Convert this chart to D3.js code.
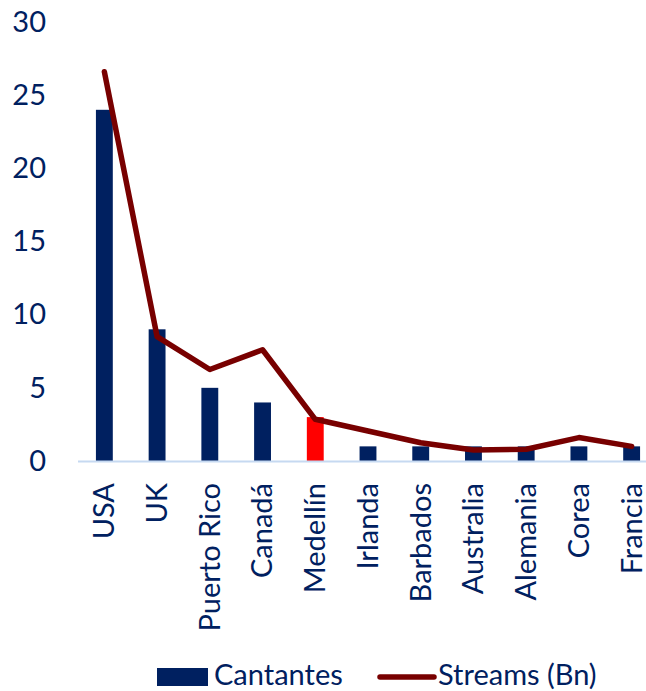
<!DOCTYPE html>
<html>
<head>
<meta charset="utf-8">
<script src="https://cdn.jsdelivr.net/npm/d3@7"></script>
<style>
  html, body { margin: 0; padding: 0; background: #fff; overflow: hidden; }
  svg { display: block; }
  text { font-family: Lato, "Open Sans", sans-serif; fill: #002060; }
</style>
</head>
<body>
<svg id="chart" width="646" height="691"></svg>
<script>
const categories = ["USA", "UK", "Puerto Rico", "Canadá", "Medellín", "Irlanda", "Barbados", "Australia", "Alemania", "Corea", "Francia"];
const cantantes = [24, 9, 5, 4, 3, 1, 1, 1, 1, 1, 1];
const streams = [26.6, 8.5, 6.25, 7.6, 2.85, 2.05, 1.25, 0.75, 0.8, 1.6, 1.0];
const yTicks = [0, 5, 10, 15, 20, 25, 30];
const highlight = "Medellín";
const seriesNames = ["Cantantes", "Streams (Bn)"];

const svg = d3.select("#chart");
const FS = 29;

const x = d3.scaleBand().domain(categories).range([78, 658]).paddingInner(0.68).paddingOuter(0.34);
const y = d3.scaleLinear().domain([0, 30]).range([461, 22]);

// y axis labels
const yAxis = d3.axisLeft(y).tickValues(yTicks).tickSize(0).tickPadding(0);
const gy = svg.append("g").attr("transform", "translate(46,0)").call(yAxis);
gy.select(".domain").remove();
gy.selectAll("text").attr("font-size", FS).attr("font-family", "Lato").attr("fill", "#002060");

// bars
svg.append("g").selectAll("rect").data(categories).join("rect")
  .attr("x", d => x(d))
  .attr("width", x.bandwidth())
  .attr("y", (d, i) => y(cantantes[i]))
  .attr("height", (d, i) => y(0) - y(cantantes[i]))
  .attr("fill", d => d === highlight ? "#FF0000" : "#002060");

// x axis line
svg.append("line").attr("x1", 78).attr("x2", 658).attr("y1", 461.5).attr("y2", 461.5)
  .attr("stroke", "#C6D9F1").attr("stroke-width", 2);

// x labels
const xAxis = d3.axisBottom(x).tickSize(0).tickPadding(0);
const gx = svg.append("g").attr("transform", "translate(0,461)").call(xAxis);
gx.select(".domain").remove();
gx.selectAll("text")
  .attr("font-size", FS).attr("font-family", "Lato").attr("fill", "#002060")
  .attr("text-anchor", "end")
  .attr("transform", "rotate(-90)")
  .attr("x", -22).attr("y", 0).attr("dy", "0.34em");

// line
const line = d3.line().x((d, i) => x(categories[i]) + x.bandwidth() / 2).y(d => y(d));
svg.append("path").datum(streams).attr("d", line)
  .attr("fill", "none").attr("stroke", "#780000").attr("stroke-width", 5.5)
  .attr("stroke-linejoin", "round").attr("stroke-linecap", "round");

// legend
const lg = svg.append("g");
lg.append("rect").attr("x", 157).attr("y", 668).attr("width", 51).attr("height", 18).attr("fill", "#002060");
lg.append("text").attr("x", 214).attr("y", 685).attr("font-size", FS).text(seriesNames[0]);
lg.append("line").attr("x1", 380).attr("x2", 434).attr("y1", 677).attr("y2", 677)
  .attr("stroke", "#780000").attr("stroke-width", 5.5).attr("stroke-linecap", "round");
lg.append("text").attr("x", 438).attr("y", 685).attr("font-size", FS).text(seriesNames[1]);
</script>
</body>
</html>
